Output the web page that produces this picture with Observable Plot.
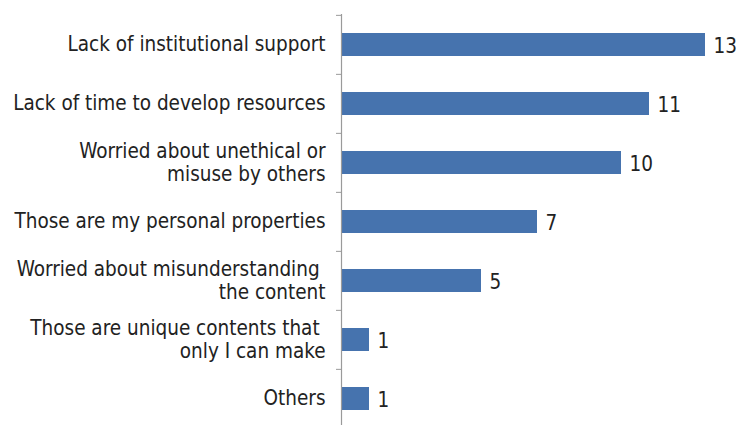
<!DOCTYPE html>
<html>
<head>
<meta charset="utf-8">
<script src="https://cdn.jsdelivr.net/npm/d3@7"></script>
<script src="https://cdn.jsdelivr.net/npm/@observablehq/plot@0.6"></script>
<style>
  html, body { margin: 0; padding: 0; background: #fff; }
  #chart svg { display: block; }
</style>
</head>
<body>
<div id="chart"></div>
<script>
const categories = [
  "Lack of institutional support",
  "Lack of time to develop resources",
  "Worried about unethical or\nmisuse by others",
  "Those are my personal properties",
  "Worried about misunderstanding\u00a0\nthe content",
  "Those are unique contents that\u00a0\nonly I can make",
  "Others"
];
const values = [13, 11, 10, 7, 5, 1, 1];

const data = categories.map((c, i) => ({category: c, value: values[i]}));

const W = 736, H = 425;
const yTop = 14, nCat = categories.length, step = 59.3;
const font = "'DejaVu Sans Condensed', sans-serif";

const chart = Plot.plot({
  width: W,
  height: H,
  marginTop: yTop,
  marginBottom: 0,
  marginLeft: 341,
  marginRight: 31,
  style: {fontFamily: font, fontSize: "20.5px", color: "#222", background: "#fff"},
  x: {domain: [0, 13], range: [341, 705], axis: null},
  y: {domain: categories, range: [yTop, yTop + nCat * step], paddingInner: 0.61, paddingOuter: 0.305, axis: null},
  marks: [
    Plot.barX(data, {x: "value", y: "category", fill: "#4673ae"}),
    Plot.text(data, {x: "value", y: "category", text: d => String(d.value), dx: 8, dy: 1, textAnchor: "start", fill: "#222", fontSize: 20.5}),
    Plot.axisY(categories, {tickSize: 5, tickFormat: () => "", label: null, stroke: "#9a9a9a", dy: -step / 2}),
    Plot.axisY(categories, {tickSize: 0, tickPadding: 16, label: null, fontSize: 20.5, fill: "#222", lineHeight: 1.1, dy: -1}),
    Plot.ruleX([0], {stroke: "#9a9a9a", strokeWidth: 1.2})
  ]
});
document.getElementById("chart").append(chart);
</script>
</body>
</html>
